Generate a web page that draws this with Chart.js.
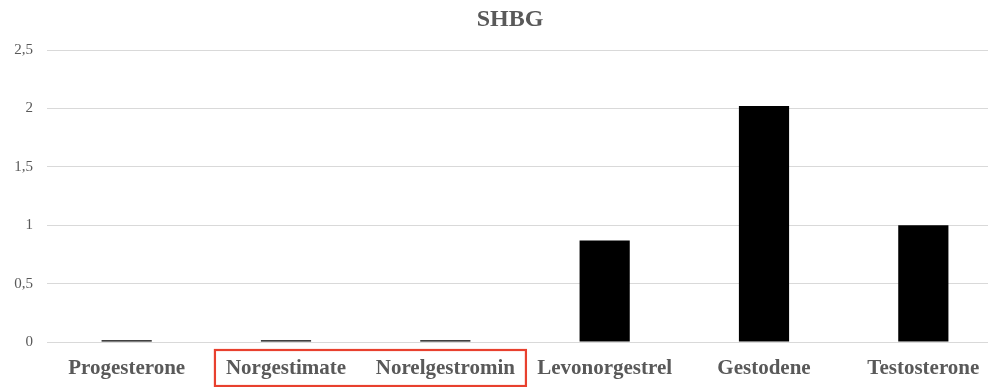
<!DOCTYPE html>
<html>
<head>
<meta charset="utf-8">
<script src="https://cdn.jsdelivr.net/npm/chart.js@4/dist/chart.umd.min.js"></script>
<style>
  html, body { margin: 0; padding: 0; background: #ffffff; overflow: hidden; }
  #wrap { width: 1020px; height: 387px; }
</style>
</head>
<body>
<div id="wrap"><canvas id="chart" width="1020" height="387"></canvas></div>
<script>
// Compounds on the x axis
const compounds = ['Progesterone', 'Norgestimate', 'Norelgestromin', 'Levonorgestrel', 'Gestodene', 'Testosterone'];
// SHBG values per compound
const shbgValues = [0.015, 0.015, 0.015, 0.87, 2.02, 1.0];
// Y axis ticks
const yTicks = [0, 0.5, 1, 1.5, 2, 2.5];
// Compounds framed together under the axis
const framedCompounds = ['Norgestimate', 'Norelgestromin'];
const chartTitle = 'SHBG';

const SERIF = '"Liberation Serif", "Times New Roman", serif';
const TEXT_GRAY = '#595959';
const GRID_GRAY = '#d9d9d9';
const LABEL_FONT = 'bold 21px ' + SERIF;

// Title centred on the canvas, above the plot
const centredTitle = {
  id: 'centredTitle',
  afterDraw(chart) {
    const ctx = chart.ctx;
    ctx.save();
    ctx.font = 'bold 24px ' + SERIF;
    ctx.fillStyle = TEXT_GRAY;
    ctx.textAlign = 'center';
    ctx.textBaseline = 'middle';
    ctx.fillText(chartTitle, chart.width / 2, 20);
    ctx.restore();
  }
};

// Red frame round a group of category labels
const frameLabels = {
  id: 'frameLabels',
  afterDraw(chart) {
    const x = chart.scales.x;
    const ctx = chart.ctx;
    ctx.save();
    ctx.font = LABEL_FONT;
    const first = compounds.indexOf(framedCompounds[0]);
    const last = compounds.indexOf(framedCompounds[framedCompounds.length - 1]);
    const left = x.getPixelForValue(first) - ctx.measureText(compounds[first]).width / 2 - 11;
    const right = x.getPixelForValue(last) + ctx.measureText(compounds[last]).width / 2 + 11;
    const top = chart.chartArea.bottom + 8;
    const bottom = chart.chartArea.bottom + 44;
    ctx.strokeStyle = '#e8402e';
    ctx.lineWidth = 2.2;
    ctx.strokeRect(left, top, right - left, bottom - top);
    ctx.restore();
  }
};

new Chart(document.getElementById('chart'), {
  type: 'bar',
  data: {
    labels: compounds,
    datasets: [{
      label: 'SHBG',
      data: shbgValues,
      backgroundColor: '#000000',
      borderWidth: 0,
      barPercentage: 0.315,
      categoryPercentage: 1.0
    }]
  },
  options: {
    responsive: false,
    animation: false,
    devicePixelRatio: 1,
    layout: { padding: { left: 0, right: 17, top: 50, bottom: 0 } },
    plugins: {
      legend: { display: false },
      tooltip: { enabled: false },
      title: { display: false }
    },
    scales: {
      x: {
        grid: { display: false, drawTicks: false },
        border: { display: true, color: GRID_GRAY, width: 1 },
        ticks: {
          color: TEXT_GRAY,
          font: { family: SERIF, size: 21, weight: 'bold' },
          padding: 14,
          maxRotation: 0,
          autoSkip: false
        },
        afterFit(scale) { scale.height = 45; }
      },
      y: {
        min: 0,
        max: 2.5,
        afterBuildTicks(scale) { scale.ticks = yTicks.map(v => ({ value: v })); },
        grid: { color: GRID_GRAY, lineWidth: 1, drawTicks: false },
        border: { display: false },
        ticks: {
          color: TEXT_GRAY,
          font: { family: SERIF, size: 15 },
          padding: 14,
          callback: v => String(v).replace('.', ',')
        },
        afterFit(scale) { scale.width = 47; }
      }
    }
  },
  plugins: [centredTitle, frameLabels]
});
</script>
</body>
</html>
